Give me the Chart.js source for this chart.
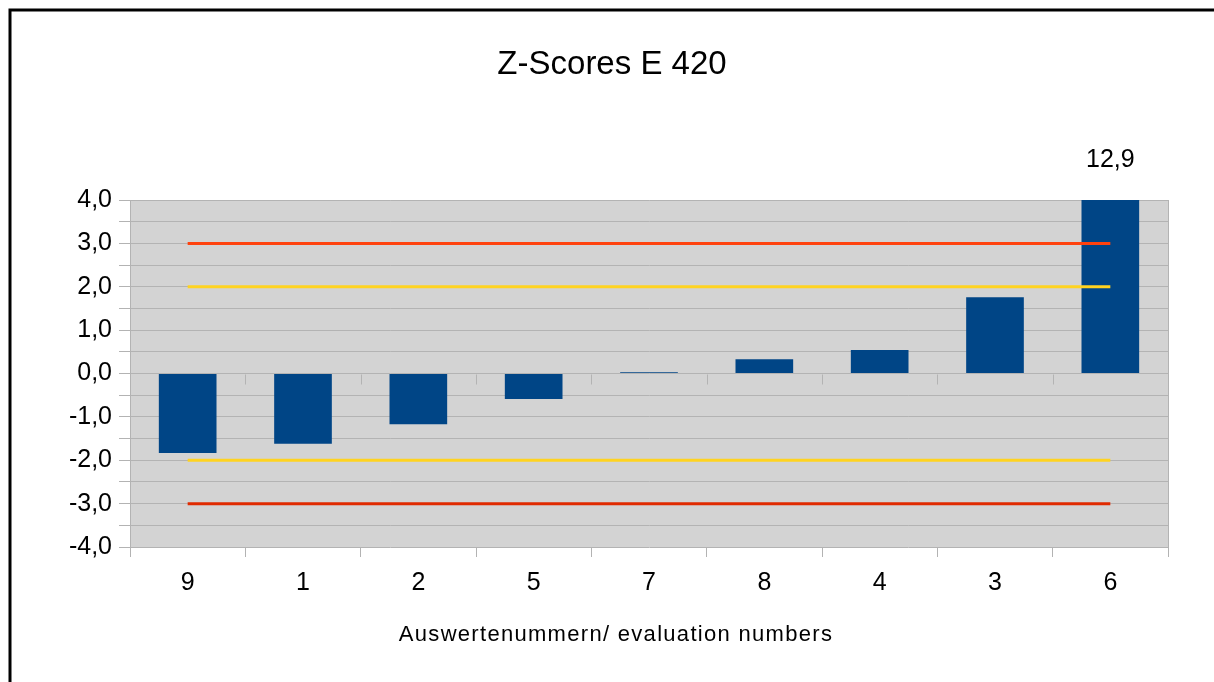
<!DOCTYPE html>
<html>
<head>
<meta charset="utf-8">
<script src="https://cdn.jsdelivr.net/npm/chart.js@4/dist/chart.umd.min.js"></script>
<style>
  html, body { margin: 0; padding: 0; background: #ffffff; }
  #wrap { width: 1214px; height: 682px; }
</style>
</head>
<body>
<div id="wrap"><canvas id="c" width="1214" height="682"></canvas></div>
<script>
// ---- data ----
const categories = ['9', '1', '2', '5', '7', '8', '4', '3', '6'];
const zScores = [-1.83, -1.62, -1.17, -0.59, 0.03, 0.33, 0.54, 1.76, 12.9];
const upperAction = [3, 3, 3, 3, 3, 3, 3, 3, 3];
const upperWarning = [2, 2, 2, 2, 2, 2, 2, 2, 2];
const lowerWarning = [-2, -2, -2, -2, -2, -2, -2, -2, -2];
const lowerAction = [-3, -3, -3, -3, -3, -3, -3, -3, -3];
const chartTitle = 'Z-Scores E 420';
const xAxisTitle = 'Auswertenummern/ evaluation numbers';
const yMin = -4, yMax = 4, yStep = 0.5;

const FONT = "'Liberation Sans', Arial, sans-serif";
const GRID = '#b3b3b3';

const fmt = v => v.toFixed(1).replace('.', ',');

const framePlugin = {
  id: 'frame',
  beforeDraw(chart) {
    const { ctx, chartArea: a } = chart;
    ctx.save();
    ctx.fillStyle = '#ffffff';
    ctx.fillRect(0, 0, chart.width, chart.height);
    ctx.strokeStyle = '#000000';
    ctx.lineWidth = 3;
    ctx.strokeRect(10, 10, 2000, 2000);
    ctx.fillStyle = '#d3d3d3';
    ctx.fillRect(a.left, a.top, a.right - a.left, a.bottom - a.top);
    ctx.restore();
  },
  beforeDatasetsDraw(chart) {
    const { ctx, chartArea: a, scales } = chart;
    const y = scales.y;
    const y0 = Math.round(y.getPixelForValue(0)) + 0.5;
    const step = (a.right - a.left) / categories.length;
    ctx.save();
    ctx.strokeStyle = GRID;
    ctx.lineWidth = 1;
    ctx.beginPath();
    for (let i = 0; i <= categories.length; i++) {
      const px = Math.round(a.left + i * step) + 0.5;
      ctx.moveTo(px, y0);
      ctx.lineTo(px, y0 + 10);
    }
    ctx.moveTo(Math.round(a.right) + 0.5, a.top);
    ctx.lineTo(Math.round(a.right) + 0.5, a.bottom);
    ctx.stroke();
    ctx.restore();
  },
  afterDraw(chart) {
    const { ctx, chartArea: a } = chart;
    const meta = chart.getDatasetMeta(4);
    ctx.save();
    ctx.fillStyle = '#000000';
    ctx.font = '25px ' + FONT;
    ctx.textAlign = 'center';
    ctx.textBaseline = 'middle';
    zScores.forEach((v, i) => {
      if (v > yMax) {
        ctx.fillText(fmt(v), meta.data[i].x, a.top - 40);
      }
    });
    // axis title, centred on the frame like the original
    ctx.font = '22px ' + FONT;
    ctx.letterSpacing = '1.3px';
    ctx.fillText(xAxisTitle, 616, 635);
    ctx.restore();
  }
};

new Chart(document.getElementById('c'), {
  data: {
    labels: categories,
    datasets: [
      { type: 'line', data: upperAction, borderColor: '#ff420e', borderWidth: 3, pointRadius: 0, order: 0 },
      { type: 'line', data: upperWarning, borderColor: '#ffd320', borderWidth: 3, pointRadius: 0, order: 0 },
      { type: 'line', data: lowerWarning, borderColor: '#ffd320', borderWidth: 3, pointRadius: 0, order: 0 },
      { type: 'line', data: lowerAction, borderColor: '#e02a00', borderWidth: 3, pointRadius: 0, order: 0 },
      { type: 'bar', data: zScores, backgroundColor: '#004586', barPercentage: 0.5, categoryPercentage: 1.0, order: 1 }
    ]
  },
  options: {
    responsive: false,
    animation: false,
    events: [],
    layout: { padding: { left: 56, right: 46, top: 0, bottom: 0 } },
    plugins: {
      legend: { display: false },
      tooltip: { enabled: false },
      title: {
        display: true,
        text: chartTitle,
        color: '#000000',
        font: { family: FONT, size: 33, weight: 'normal', lineHeight: 1.2 },
        padding: { top: 45, bottom: 115.4 }
      }
    },
    scales: {
      x: {
        type: 'category',
        offset: true,
        grid: { display: true, offset: true, drawOnChartArea: false, color: GRID, tickLength: 10 },
        border: { display: false },
        ticks: { color: '#000000', font: { family: FONT, size: 25 }, padding: 11 },
        title: { display: false },
        afterFit(scale) { scale.height = 135; }
      },
      y: {
        min: yMin,
        max: yMax,
        grid: { color: GRID, tickLength: 11 },
        border: { display: true, color: GRID },
        ticks: {
          stepSize: yStep,
          color: '#000000',
          font: { family: FONT, size: 25 },
          padding: 7,
          autoSkip: false,
          callback: v => (Math.abs(v - Math.round(v)) < 1e-9 ? fmt(v) : '')
        },
        afterFit(scale) { scale.width = 74; }
      }
    }
  },
  plugins: [framePlugin]
});
</script>
</body>
</html>
